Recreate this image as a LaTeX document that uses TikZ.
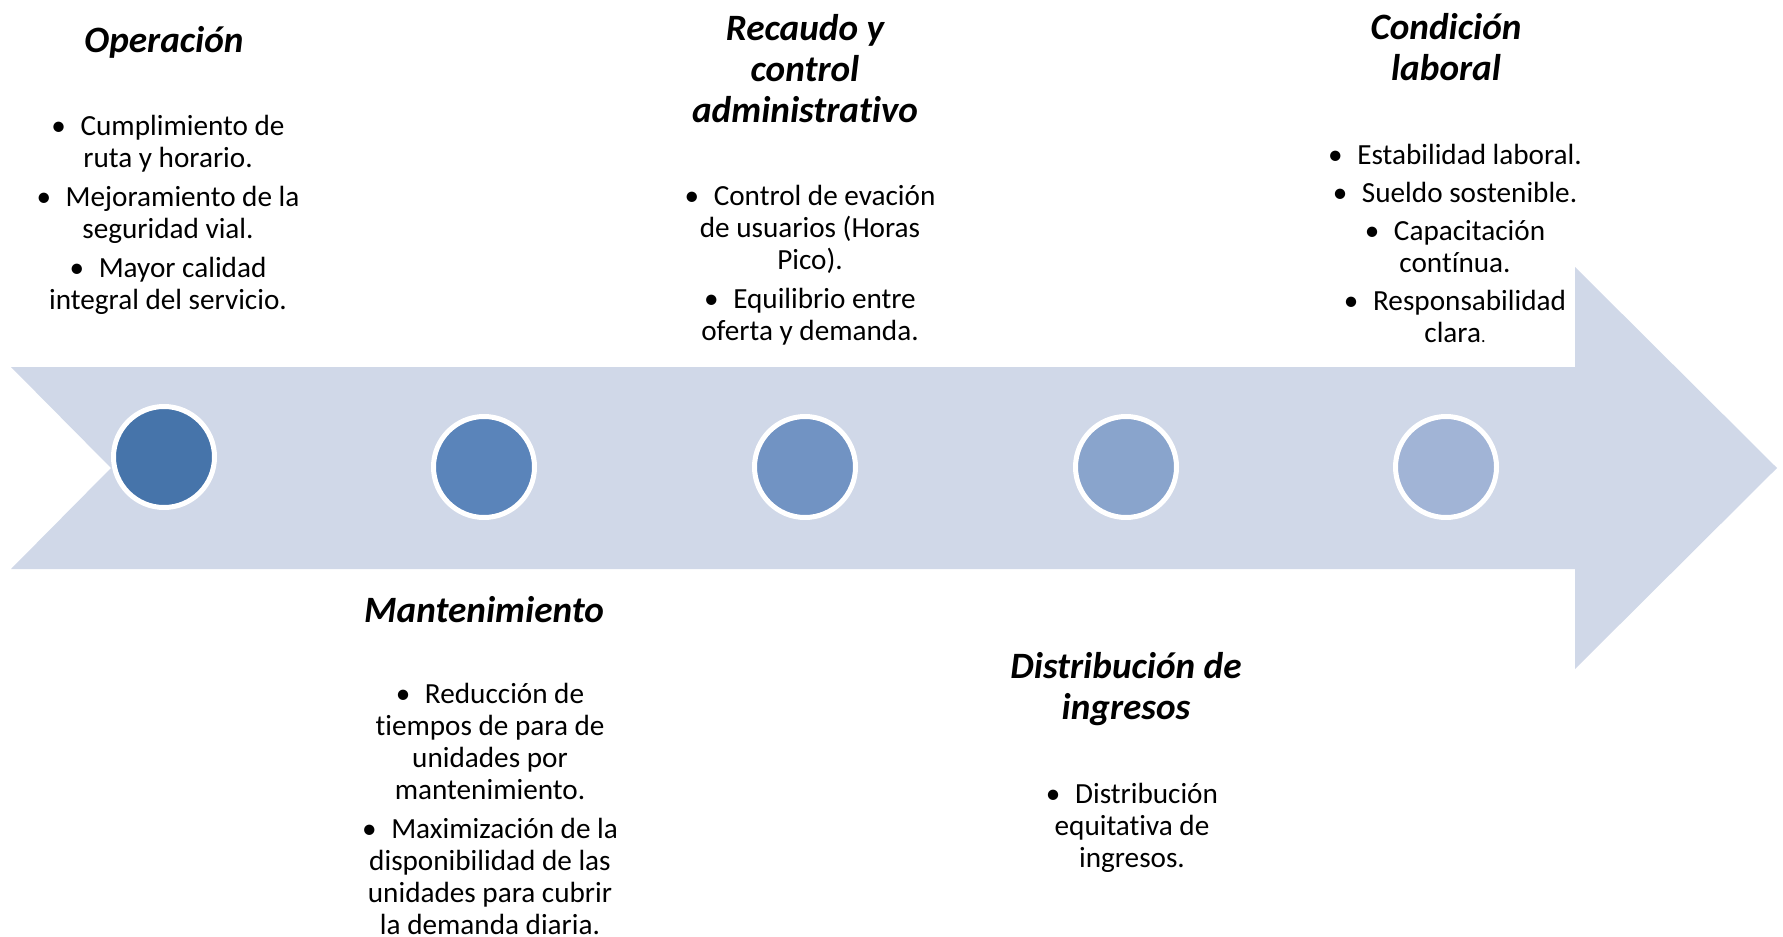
\documentclass[tikz,border=0pt]{standalone}
\usepackage{fontspec}
\setmainfont{Carlito}[Ligatures=NoCommon]

\definecolor{flecha}{HTML}{D0D8E8}
\definecolor{hitoA}{HTML}{4674AA}
\definecolor{hitoB}{HTML}{5A84BA}
\definecolor{hitoC}{HTML}{7193C3}
\definecolor{hitoD}{HTML}{89A4CC}
\definecolor{hitoE}{HTML}{A1B4D6}

\newcommand{\itm}{\textbullet\hspace{0.5em}}

\tikzset{hito/.style={circle,draw=white,line width=2.5pt,inner sep=0pt,minimum size=50.5pt}}
\tikzset{titulo/.style={align=center,font=\fontsize{18.6}{20.5}\selectfont\bfseries\itshape}}
\tikzset{lista/.style={align=center,font=\fontsize{14.6}{16}\selectfont}}

\begin{document}
\begin{tikzpicture}[x=0.5pt,y=-0.5pt]
 	 	\useasboundingbox (0,0) rectangle (1783,937);

 	 	\fill[flecha] (11,367) -- (1575,367) -- (1575,267) -- (1777,468) -- (1575,669) -- (1575,569) -- (11,569) -- (111,468) -- cycle;

 	 	\node[hito,fill=hitoA] (c1) at (164,457) {};
 	 	\node[hito,fill=hitoB] (c2) at (484,467) {};
 	 	\node[hito,fill=hitoC] (c3) at (805,467) {};
 	 	\node[hito,fill=hitoD] (c4) at (1126,467) {};
 	 	\node[hito,fill=hitoE] (c5) at (1446,467) {};

 	 	\node[titulo] (t1) at (164,42) {Operación};
 	 	\node[lista] (l1) at (168,215) {\itm Cumplimiento de\\ ruta y horario.\\[3.5pt] \itm Mejoramiento de la\\ seguridad vial.\\[3.5pt] \itm Mayor calidad\\ integral del servicio.};

 	 	\node[titulo] (t2) at (484,610) {Mantenimiento};
 	 	\node[lista] (l2) at (490,809) {\itm Reducción de\\ tiempos de para de\\ unidades por\\ mantenimiento.\\[3.5pt] \itm Maximización de la\\ disponibilidad de las\\ unidades para cubrir\\ la demanda diaria.};

 	 	\node[titulo] (t3) at (805,69) {Recaudo y\\ control\\ administrativo};
 	 	\node[lista] (l3) at (810,265) {\itm Control de evación\\ de usuarios (Horas\\ Pico).\\[3.5pt] \itm Equilibrio entre\\ oferta y demanda.};

 	 	\node[titulo] (t4) at (1126,689) {Distribución de\\ ingresos};
 	 	\node[lista] (l4) at (1132,828) {\itm Distribución\\ equitativa de\\ ingresos.};

 	 	\node[titulo] (t5) at (1446,47) {Condición\\ laboral};
 	 	\node[lista] (l5) at (1455,243) {\itm Estabilidad laboral.\\[3pt] \itm Sueldo sostenible.\\[3pt] \itm Capacitación\\ contínua.\\[3pt] \itm Responsabilidad\\ clara{\fontsize{9}{9}\selectfont.}};
 	 \end{tikzpicture}
\end{document}
